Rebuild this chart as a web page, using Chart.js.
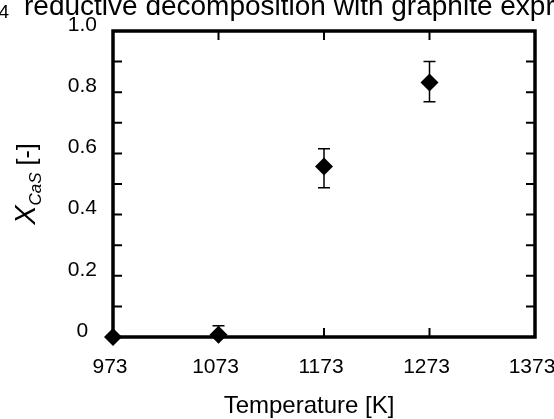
<!DOCTYPE html>
<html>
<head>
<meta charset="utf-8">
<script src="https://cdn.jsdelivr.net/npm/chart.js@4.4.0/dist/chart.umd.min.js"></script>
<style>
html,body{margin:0;padding:0;background:#fff;}
canvas{display:block;}
</style>
</head>
<body>
<canvas id="c" width="554" height="419"></canvas>
<script>
// ---- data ----
const temperatures = [973, 1073, 1173, 1273];
const xCaS = [0, 0.007, 0.557, 0.832];
const errPlus = [0, 0.030, 0.058, 0.068];
const errMinus = [0, 0.030, 0.069, 0.063];
const xTicks = [973, 1073, 1173, 1273, 1373];
const xTickLabels = ['973', '1073', '1173', '1273', '1373'];
const xMarkTicks = [1073, 1173, 1273];
const yLabelTicks = [0, 0.2, 0.4, 0.6, 0.8, 1.0];
const yTickLabels = ['0', '0.2', '0.4', '0.6', '0.8', '1.0'];
const yMarkTicks = [0.1, 0.2, 0.3, 0.4, 0.5, 0.6, 0.7, 0.8, 0.9];
const titleSub = 'CaSO';
const titleSubDigit = '4';
const titleMain = 'reductive decomposition with graphite expr.';
const xTitle = 'Temperature [K]';
const yTitleMain = 'X';
const yTitleSub = 'CaS';
const yTitleUnit = ' [-]';

const FONT = '"Liberation Sans", Arial, sans-serif';

const decor = {
  id: 'decor',
  beforeDatasetsDraw(chart) {
    const {ctx, chartArea: a, scales: {x, y}} = chart;
    ctx.save();
    ctx.strokeStyle = '#000';
    ctx.lineWidth = 3.5;
    ctx.strokeRect(a.left, a.top, a.right - a.left, a.bottom - a.top);
    ctx.lineWidth = 2;
    const tl = 9;
    ctx.beginPath();
    xMarkTicks.forEach(v => {
      const px = x.getPixelForValue(v);
      ctx.moveTo(px, a.bottom); ctx.lineTo(px, a.bottom - tl);
      ctx.moveTo(px, a.top); ctx.lineTo(px, a.top + tl);
    });
    yMarkTicks.forEach(v => {
      const py = y.getPixelForValue(v);
      ctx.moveTo(a.left, py); ctx.lineTo(a.left + tl, py);
      ctx.moveTo(a.right, py); ctx.lineTo(a.right - tl, py);
    });
    ctx.stroke();
    ctx.beginPath();
    ctx.rect(a.left, a.top, a.right - a.left, a.bottom - a.top);
    ctx.clip();
    ctx.lineWidth = 1.5;
    ctx.beginPath();
    const cap = 6;
    temperatures.forEach((t, i) => {
      if (!errPlus[i] && !errMinus[i]) return;
      const px = x.getPixelForValue(t);
      const top = y.getPixelForValue(xCaS[i] + errPlus[i]);
      const bot = y.getPixelForValue(xCaS[i] - errMinus[i]);
      ctx.moveTo(px, top); ctx.lineTo(px, bot);
      ctx.moveTo(px - cap, top); ctx.lineTo(px + cap, top);
      ctx.moveTo(px - cap, bot); ctx.lineTo(px + cap, bot);
    });
    ctx.stroke();
    ctx.restore();
  },
  afterDraw(chart) {
    const {ctx, chartArea: a} = chart;
    ctx.save();
    ctx.fillStyle = '#000';
    ctx.textBaseline = 'alphabetic';
    // title (overflows the canvas like the original)
    ctx.font = '28px ' + FONT;
    ctx.textAlign = 'left';
    ctx.fillText(titleMain, 24, 15);
    ctx.font = '19px ' + FONT;
    ctx.textAlign = 'right';
    const dW = ctx.measureText(titleSubDigit).width;
    ctx.fillText(titleSubDigit, 9, 18);
    ctx.font = '28px ' + FONT;
    ctx.fillText(titleSub, 9 - dW, 15);
    // x axis title
    ctx.textAlign = 'center';
    ctx.font = '24px ' + FONT;
    ctx.fillText(xTitle, (a.left + a.right) / 2 - 15, 413);
    // y axis title
    ctx.textAlign = 'left';
    const fMain = 'italic 29px ' + FONT;
    const fSub = 'italic 17px ' + FONT;
    const fUnit = '25px ' + FONT;
    ctx.font = fMain; const w1 = ctx.measureText(yTitleMain).width;
    ctx.font = fSub; const w2 = ctx.measureText(yTitleSub).width;
    ctx.font = fUnit; const w3 = ctx.measureText(yTitleUnit).width;
    const total = w1 + w2 + w3;
    const cy = (a.top + a.bottom) / 2;
    ctx.translate(35, cy + total / 2);
    ctx.rotate(-Math.PI / 2);
    ctx.font = fMain; ctx.fillText(yTitleMain, 0, 0);
    ctx.font = fSub; ctx.fillText(yTitleSub, w1, 6);
    ctx.font = fUnit; ctx.fillText(yTitleUnit, w1 + w2, 0);
    ctx.restore();
  }
};

new Chart(document.getElementById('c'), {
  type: 'scatter',
  data: {
    datasets: [{
      data: temperatures.map((t, i) => ({x: t, y: xCaS[i]})),
      pointStyle: 'rectRot',
      pointRadius: 9,
      pointHoverRadius: 9,
      backgroundColor: '#000',
      borderColor: '#000',
      borderWidth: 0,
      showLine: false,
      clip: false
    }]
  },
  options: {
    responsive: false,
    animation: false,
    events: [],
    layout: {padding: {top: 31, right: 19, bottom: 0, left: 0}},
    plugins: {legend: {display: false}, tooltip: {enabled: false}, title: {display: false}},
    scales: {
      x: {
        type: 'linear',
        min: 973, max: 1373,
        grid: {display: false, drawTicks: false},
        border: {display: false},
        afterBuildTicks: s => { s.ticks = xTicks.map(v => ({value: v})); },
        afterFit: s => { s.height = 82; s.paddingLeft = 0; s.paddingRight = 0; },
        ticks: {
          autoSkip: false, maxRotation: 0, minRotation: 0,
          padding: 18, labelOffset: -3,
          color: '#000',
          font: {family: FONT, size: 21},
          callback: v => { const i = xTicks.indexOf(v); return i >= 0 ? xTickLabels[i] : ''; }
        },
        title: {display: false}
      },
      y: {
        type: 'linear',
        min: 0, max: 1,
        grid: {display: false, drawTicks: false},
        border: {display: false},
        afterBuildTicks: s => { s.ticks = yLabelTicks.map(v => ({value: v})); },
        afterFit: s => { s.width = 113; s.paddingTop = 0; s.paddingBottom = 0; },
        ticks: {
          autoSkip: false,
          padding: 16, labelOffset: -6,
          crossAlign: 'center',
          color: '#000',
          font: {family: FONT, size: 21},
          callback: v => { const i = yLabelTicks.findIndex(t => Math.abs(t - v) < 1e-9); return i >= 0 ? yTickLabels[i] : ''; }
        }
      }
    }
  },
  plugins: [decor]
});
</script>
</body>
</html>
